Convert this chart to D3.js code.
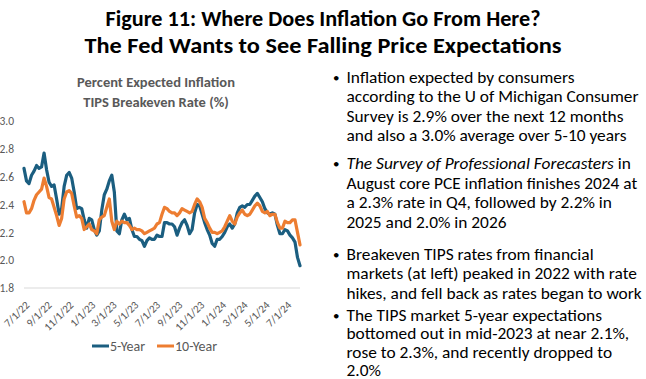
<!DOCTYPE html>
<html><head><meta charset="utf-8">
<script src="https://cdn.jsdelivr.net/npm/d3@7/dist/d3.min.js"></script>
<style>body{margin:0;background:#fff;} svg{display:block;}</style>
</head><body>
<svg id="c" width="646" height="379"></svg>
<script>
// ---------- data ----------
const startDateLabel = "7/1/22";   // first weekly observation
const seriesNames = ["5-Year", "10-Year"];
const fiveYear = [
 2.66,2.57,2.55,2.61,2.64,2.68,2.66,2.67,2.77,2.65,
 2.56,2.53,2.54,2.44,2.33,2.37,2.53,2.61,2.63,2.59,
 2.49,2.37,2.38,2.37,2.29,2.23,2.30,2.29,2.22,2.18,
 2.21,2.36,2.47,2.51,2.57,2.61,2.49,2.21,2.19,2.29,
 2.33,2.29,2.30,2.22,2.17,2.17,2.15,2.14,2.10,2.14,
 2.16,2.15,2.15,2.18,2.17,2.17,2.27,2.27,2.26,2.26,
 2.24,2.18,2.23,2.27,2.29,2.25,2.19,2.22,2.34,2.40,
 2.39,2.33,2.27,2.22,2.18,2.12,2.10,2.15,2.15,2.17,
 2.20,2.24,2.26,2.23,2.26,2.34,2.38,2.39,2.38,2.40,
 2.40,2.43,2.46,2.48,2.45,2.42,2.37,2.34,2.33,2.34,
 2.33,2.25,2.19,2.19,2.22,2.21,2.18,2.16,2.13,2.02,
 1.96
];
const tenYear = [
 2.42,2.34,2.34,2.37,2.43,2.47,2.49,2.51,2.59,2.53,
 2.45,2.44,2.38,2.32,2.25,2.30,2.44,2.49,2.50,2.48,
 2.39,2.31,2.32,2.30,2.22,2.24,2.26,2.22,2.21,2.19,
 2.29,2.31,2.32,2.38,2.44,2.28,2.22,2.28,2.26,2.28,
 2.27,2.27,2.25,2.22,2.23,2.22,2.22,2.21,2.19,2.20,
 2.21,2.22,2.23,2.26,2.27,2.33,2.38,2.37,2.35,2.34,
 2.34,2.32,2.34,2.37,2.36,2.35,2.34,2.35,2.40,2.44,
 2.42,2.38,2.30,2.27,2.23,2.20,2.20,2.19,2.20,2.21,
 2.24,2.28,2.32,2.28,2.26,2.31,2.34,2.36,2.33,2.32,
 2.33,2.36,2.39,2.41,2.39,2.35,2.34,2.35,2.32,2.33,
 2.33,2.27,2.23,2.23,2.28,2.27,2.27,2.29,2.29,2.20,
 2.11
];
const yTicks = [1.8, 2.0, 2.2, 2.4, 2.6, 2.8, 3.0];
const xTickLabels = ["7/1/22","9/1/22","11/1/22","1/1/23","3/1/23","5/1/23","7/1/23",
                     "9/1/23","11/1/23","1/1/24","3/1/24","5/1/24","7/1/24"];
const titleLines = ["Figure 11: Where Does Inflation Go From Here?",
                    "The Fed Wants to See Falling Price Expectations"];
const chartTitleLines = ["Percent Expected Inflation", "TIPS Breakeven Rate (%)"];
// *...* marks italic
const bulletLines = [
 ["Inflation expected by consumers",
  "according to the U of Michigan Consumer",
  "Survey is 2.9% over the next 12 months",
  "and also a 3.0% average over 5-10 years"],
 ["*The Survey of Professional Forecasters* in",
  "August core PCE inflation finishes 2024 at",
  "a 2.3% rate in Q4, followed by 2.2% in",
  "2025 and 2.0% in 2026"],
 ["Breakeven TIPS rates from financial",
  "markets (at left) peaked in 2022 with rate",
  "hikes, and fell back as rates began to work"],
 ["The TIPS market 5-year expectations",
  "bottomed out in mid-2023 at near 2.1%,",
  "rose to 2.3%, and recently dropped to",
  "2.0%"]
];

// ---------- layout / style ----------
const FONT = "Carlito, Lato, sans-serif";
const colors = {"5-Year": "#1b5e80", "10-Year": "#ed7d31"};
const grey = "#595959";
const svg = d3.select("#c");

function measure(str, weight, size, style) {
  const t = svg.append("text").attr("font-family", FONT).attr("font-weight", weight)
    .attr("font-style", style || "normal").attr("font-size", size).text(str);
  const w = t.node().getComputedTextLength();
  t.remove();
  return w;
}

// title (widths matched to reference)
const titleWidths = [435, 477];
svg.selectAll("text.title").data(titleLines).join("text")
  .attr("class", "title").attr("x", 323).attr("y", (d, i) => 26 + i * 27)
  .attr("text-anchor", "middle").attr("font-family", FONT).attr("font-weight", 700)
  .attr("font-size", 21.5).attr("fill", "#000")
  .attr("textLength", (d, i) => titleWidths[i]).attr("lengthAdjust", "spacingAndGlyphs")
  .text(d => d);

// chart title
const ctSize = 14 * 163 / measure(chartTitleLines[0], 700, 14);
svg.selectAll("text.ctitle").data(chartTitleLines).join("text")
  .attr("class", "ctitle").attr("x", 156).attr("y", (d, i) => 86.5 + i * 20)
  .attr("text-anchor", "middle").attr("font-family", FONT).attr("font-weight", 700)
  .attr("font-size", Math.min(ctSize, 14.5)).attr("fill", grey).text(d => d);

// scales
const parse = d3.timeParse("%m/%d/%y");
const start = parse(startDateLabel);
const dates = fiveYear.map((_, i) => d3.timeDay.offset(start, 7 * i));
const x = d3.scaleTime().domain([dates[0], dates[dates.length - 1]]).range([24, 300]);
const y = d3.scaleLinear().domain([1.8, 3.0]).range([288, 121]);

// y axis labels
const yAxis = svg.append("g").attr("transform", "translate(14,0)")
  .call(d3.axisLeft(y).tickValues(yTicks).tickSize(0).tickPadding(0).tickFormat(d3.format(".1f")));
yAxis.select(".domain").remove();
yAxis.selectAll("text").attr("font-family", FONT).attr("font-size", 11.5).attr("fill", grey);

// baseline gridline
svg.append("line").attr("x1", x.range()[0]).attr("x2", x.range()[1])
  .attr("y1", y(1.8)).attr("y2", y(1.8)).attr("stroke", "#d9d9d9").attr("stroke-width", 1);

// x axis labels
const tickDates = xTickLabels.map(parse);
const xAxis = svg.append("g").attr("transform", `translate(0,${y(1.8)})`)
  .call(d3.axisBottom(x).tickValues(tickDates).tickSize(0)
        .tickFormat((d, i) => xTickLabels[i]));
xAxis.select(".domain").remove();
xAxis.selectAll("text").attr("font-family", FONT).attr("font-size", 11).attr("fill", grey)
  .attr("text-anchor", "end").attr("x", 0).attr("y", 0).attr("dy", "0.35em")
  .attr("transform", "translate(3,15) rotate(-45)");

// lines
const line = d3.line().x((d, i) => x(dates[i])).y(d => y(d)).curve(d3.curveLinear);
const series = [{name: "5-Year", values: fiveYear}, {name: "10-Year", values: tenYear}];
svg.selectAll("path.series").data(series).join("path").attr("class", "series")
  .attr("d", d => line(d.values)).attr("fill", "none")
  .attr("stroke", d => colors[d.name]).attr("stroke-width", 3.2)
  .attr("stroke-linejoin", "round").attr("stroke-linecap", "round");

// legend
const legendX = [92, 157];
const lg = svg.selectAll("g.lg").data(seriesNames).join("g").attr("class", "lg")
  .attr("transform", (d, i) => `translate(${legendX[i]},346)`);
lg.append("line").attr("x1", 0).attr("x2", 17).attr("y1", 0).attr("y2", 0)
  .attr("stroke", d => colors[d]).attr("stroke-width", 3);
lg.append("text").attr("x", 18).attr("y", 0).attr("dy", "0.35em")
  .attr("font-family", FONT).attr("font-size", 14).attr("fill", grey).text(d => d);

// bullet text: glyph size chosen for line spacing, width matched to reference
const bFont = 15.3;
const refW = measure(bulletLines[0][1], 400, bFont);
const stretch = 292 / refW;
const bulletBaselines = [
  [82.7, 102.2, 121.7, 141.2],
  [169.3, 188.8, 208.3, 227.8],
  [259.5, 279, 298.5],
  [320.5, 339, 357.5, 375.5]
];
const textX = 346.5, bulletX = 333;
bulletLines.forEach((lines, bi) => {
  svg.append("text").attr("x", bulletX).attr("y", bulletBaselines[bi][0] - 1)
    .attr("font-family", FONT).attr("font-size", 13).attr("fill", "#000").text("•");
  lines.forEach((ln, li) => {
    const t = svg.append("text").attr("x", textX).attr("y", bulletBaselines[bi][li])
      .attr("font-family", FONT).attr("font-size", bFont).attr("fill", "#000");
    ln.split("*").forEach((seg, si) => {
      if (seg.length) t.append("tspan").attr("font-style", si % 2 ? "italic" : "normal")
        .text(seg);
    });
    const w = t.node().getComputedTextLength();
    t.attr("textLength", w * stretch).attr("lengthAdjust", "spacingAndGlyphs");
  });
});
</script>
</body></html>
